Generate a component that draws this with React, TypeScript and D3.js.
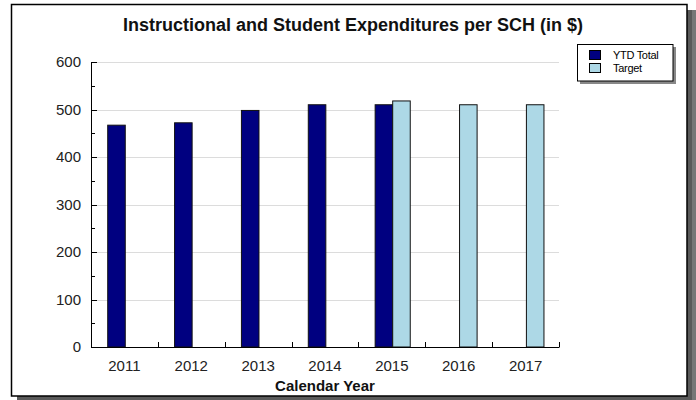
import React from "react";
import * as d3 from "d3";

const categories = ["2011", "2012", "2013", "2014", "2015", "2016", "2017"];
const ytdTotal: (number | null)[] = [467, 472, 498, 510, 510, null, null];
const target: (number | null)[] = [null, null, null, null, 518, 510, 510];
const yTicks = [0, 100, 200, 300, 400, 500, 600];
const yMinorTicks = [50, 150, 250, 350, 450, 550];
const seriesNames = ["YTD Total", "Target"];
const seriesColors = ["#000080", "#ADD8E6"];

const W = 696;
const H = 400;
const plot = { left: 91, right: 559, top: 62, bottom: 347 };

export default function App() {
  const x = d3.scaleBand<string>().domain(categories).range([plot.left, plot.right]).padding(0);
  const y = d3.scaleLinear().domain([0, 600]).range([plot.bottom, plot.top]);
  const bw = x.bandwidth();
  const barW = bw * 0.2625;
  const font = "'Liberation Sans', Arial, sans-serif";

  return (
    <svg width={W} height={H} style={{ position: "absolute", left: 0, top: 0 }} fontFamily={font}>
      <rect x={0} y={0} width={W} height={H} fill="#fff" />
      {/* shadow */}
      <rect x={17} y={10} width={W - 17} height={H - 10} fill="#5a5a5a" />
      <rect x={692} y={10} width={4} height={H - 10} fill="#777" />
      {/* frame */}
      <rect x={11.5} y={4.5} width={675.5} height={391.5} fill="#fff" stroke="#000" strokeWidth={1.5} />

      {/* title */}
      <text x={353} y={31} textAnchor="middle" fontSize={18} fontWeight="bold" fill="#111">
        Instructional and Student Expenditures per SCH (in $)
      </text>

      {/* gridlines */}
      {yTicks.filter((t) => t > 0).map((t) => (
        <line key={"g" + t} x1={plot.left} x2={plot.right} y1={Math.round(y(t)) + 0.5} y2={Math.round(y(t)) + 0.5} stroke="#dcdcdc" strokeWidth={1} />
      ))}

      {/* bars */}
      {categories.map((c, i) => {
        const x0 = (x(c) as number) + bw * 0.25;
        const out: React.ReactNode[] = [];
        const v1 = ytdTotal[i];
        const v2 = target[i];
        if (v1 != null) {
          out.push(
            <rect key={"a" + c} x={x0} y={y(v1)} width={barW} height={y(0) - y(v1)} fill={seriesColors[0]} stroke="#111" strokeWidth={1} />
          );
        }
        if (v2 != null) {
          out.push(
            <rect key={"b" + c} x={x0 + barW} y={y(v2)} width={barW} height={y(0) - y(v2)} fill={seriesColors[1]} stroke="#111" strokeWidth={1} />
          );
        }
        return <g key={c}>{out}</g>;
      })}

      {/* axes */}
      <line x1={plot.left + 0.5} x2={plot.left + 0.5} y1={plot.top} y2={plot.bottom} stroke="#000" />
      <line x1={plot.left} x2={plot.right + 0.5} y1={plot.bottom + 0.5} y2={plot.bottom + 0.5} stroke="#000" />
      {yTicks.map((t) => (
        <g key={"yt" + t}>
          <line x1={plot.left} x2={plot.left + 6} y1={Math.round(y(t)) + 0.5} y2={Math.round(y(t)) + 0.5} stroke="#000" />
          <text x={81} y={y(t)} dy="0.35em" textAnchor="end" fontSize={15} fill="#222">
            {t}
          </text>
        </g>
      ))}
      {yMinorTicks.map((t) => (
        <line key={"ym" + t} x1={plot.left} x2={plot.left + 4} y1={Math.round(y(t)) + 0.5} y2={Math.round(y(t)) + 0.5} stroke="#000" />
      ))}
      {categories.map((c, i) => (
        <g key={"xt" + c}>
          <line x1={Math.round((x(c) as number) + bw) + 0.5} x2={Math.round((x(c) as number) + bw) + 0.5} y1={plot.bottom - 5} y2={plot.bottom} stroke="#000" />
          <text x={(x(c) as number) + bw / 2} y={371} textAnchor="middle" fontSize={15} fill="#222">
            {c}
          </text>
        </g>
      ))}
      <text x={(plot.left + plot.right) / 2} y={391} textAnchor="middle" fontSize={15} fontWeight="bold" fill="#111">
        Calendar Year
      </text>

      {/* legend */}
      <rect x={580} y={47} width={96} height={37} fill="#888" />
      <rect x={577.5} y={44.5} width={95.5} height={36.5} fill="#fff" stroke="#000" />
      {seriesNames.map((s, i) => (
        <g key={s}>
          <rect x={589.5} y={50.5 + i * 13} width={11} height={9} fill={seriesColors[i]} stroke="#000" />
          <text x={613} y={55 + i * 13} dy="0.35em" fontSize={11} letterSpacing={-0.3} fill="#000">
            {s}
          </text>
        </g>
      ))}
    </svg>
  );
}
